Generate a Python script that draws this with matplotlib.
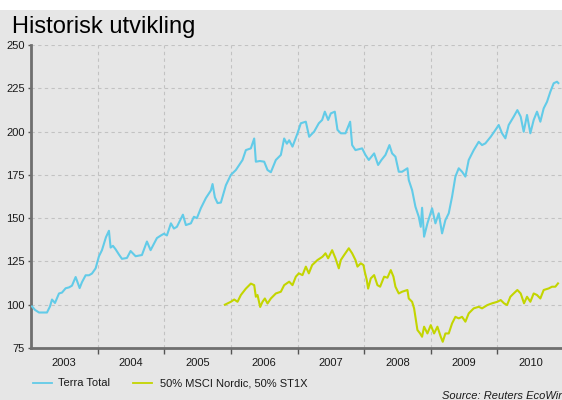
import matplotlib
matplotlib.use("Agg")
import matplotlib.pyplot as plt
from matplotlib.lines import Line2D
from matplotlib.patches import Rectangle

plt.rcParams['font.family'] = ['Liberation Sans', 'DejaVu Sans']

# ---- data (decimal years, index values) ----
terra_t = [2003.015, 2003.06, 2003.12, 2003.18, 2003.24, 2003.285, 2003.315, 2003.36, 2003.42, 2003.465,
           2003.52, 2003.57, 2003.615, 2003.67, 2003.73, 2003.765, 2003.82, 2003.87, 2003.915, 2003.97,
           2004.02, 2004.065, 2004.125, 2004.17, 2004.195, 2004.23, 2004.27, 2004.32, 2004.365, 2004.44,
           2004.495, 2004.57, 2004.665, 2004.74, 2004.795, 2004.89, 2004.95, 2004.995, 2005.04, 2005.1,
           2005.145, 2005.19, 2005.28, 2005.325, 2005.4, 2005.445, 2005.49, 2005.55, 2005.625, 2005.7,
           2005.725, 2005.76, 2005.8, 2005.85, 2005.925, 2006.0, 2006.075, 2006.175, 2006.225, 2006.3,
           2006.35, 2006.375, 2006.435, 2006.5, 2006.55, 2006.6, 2006.675, 2006.75, 2006.8, 2006.84,
           2006.875, 2006.925, 2007.0, 2007.05, 2007.125, 2007.175, 2007.25, 2007.32, 2007.37, 2007.41,
           2007.46, 2007.5, 2007.56, 2007.6, 2007.65, 2007.72, 2007.79, 2007.82, 2007.87, 2007.97,
           2008.02, 2008.07, 2008.15, 2008.21, 2008.26, 2008.32, 2008.38, 2008.42, 2008.47, 2008.52,
           2008.57, 2008.65, 2008.67, 2008.72, 2008.77, 2008.82, 2008.85, 2008.87, 2008.9, 2008.95,
           2009.02, 2009.07, 2009.12, 2009.17, 2009.22, 2009.27, 2009.32, 2009.37, 2009.42, 2009.47,
           2009.52, 2009.57, 2009.645, 2009.72, 2009.77, 2009.82, 2009.9, 2009.97, 2010.02, 2010.07,
           2010.12, 2010.17, 2010.245, 2010.3, 2010.35, 2010.395, 2010.445, 2010.495, 2010.545, 2010.595,
           2010.645, 2010.695, 2010.745, 2010.795, 2010.845, 2010.895, 2010.915]
terra_v = [99, 97, 95.5, 95.5, 95.5, 99, 103, 101, 106.5, 107,
           109.5, 110, 111, 116, 109.6, 113, 117, 117, 118, 121,
           128, 131.5, 139, 142.7, 133, 134, 132, 129, 126.5, 127,
           131, 128, 128.7, 136.5, 131.5, 138.5, 140, 141, 140, 147,
           144, 145, 152, 146, 147, 150.8, 150, 155.8, 161.6, 166,
           169.7, 162, 158.7, 159, 169, 175, 177.8, 183.6, 189.3, 190.3,
           196, 182.6, 183, 182.6, 177.8, 176.5, 183.6, 186.5, 196, 193,
           195, 191.3, 199, 204.8, 205.7, 197, 200, 204.8, 206.7, 211.5,
           206.7, 210.5, 211.5, 201, 199, 199, 205.7, 192.2, 189.3, 190.3,
           186.5, 183.6, 187.4, 180.7, 183.6, 186.5, 192.2, 187.4, 185.5, 176.8,
           176.8, 178.8, 172, 166.2, 156.6, 150.8, 145, 156, 139.3, 147,
           155.7, 147, 152.8, 141.2, 148.9, 152.8, 162.4, 174, 178.8, 176.8,
           174, 183.6, 189.3, 194.1, 192.2, 193.2, 197, 200.9, 203.8, 199,
           196.1, 203.8, 208.6, 212.4, 208.6, 199.9, 209.6, 199, 206.7, 211.5,
           205.7, 213.4, 217.2, 223, 227.9, 228.8, 228]

nordic_t = [2005.91, 2006.0, 2006.05, 2006.1, 2006.15, 2006.225, 2006.3, 2006.35, 2006.375, 2006.4,
            2006.44, 2006.475, 2006.51, 2006.55, 2006.6, 2006.675, 2006.75, 2006.8, 2006.875, 2006.925,
            2006.975, 2007.02, 2007.075, 2007.125, 2007.17, 2007.22, 2007.3, 2007.375, 2007.42, 2007.46,
            2007.52, 2007.57, 2007.62, 2007.65, 2007.7, 2007.77, 2007.82, 2007.87, 2007.9, 2007.95,
            2007.99, 2008.01, 2008.04, 2008.06, 2008.1, 2008.15, 2008.2, 2008.24, 2008.3, 2008.35,
            2008.4, 2008.44, 2008.47, 2008.52, 2008.57, 2008.65, 2008.67, 2008.72, 2008.75, 2008.8,
            2008.84, 2008.87, 2008.9, 2008.95, 2009.0, 2009.05, 2009.1, 2009.15, 2009.18, 2009.22,
            2009.27, 2009.32, 2009.37, 2009.42, 2009.47, 2009.52, 2009.57, 2009.645, 2009.72, 2009.77,
            2009.85, 2009.92, 2010.0, 2010.05, 2010.1, 2010.145, 2010.195, 2010.245, 2010.3, 2010.35,
            2010.4, 2010.445, 2010.495, 2010.545, 2010.595, 2010.645, 2010.695, 2010.77, 2010.82, 2010.87,
            2010.91]
nordic_v = [100, 101.7, 103, 101.7, 105.6, 109.3, 112.2, 111.3, 104.6, 105.6,
            98.7, 101.7, 103.6, 100.7, 103.6, 106.5, 107.5, 111.3, 113.3, 111.3,
            116.2, 118.1, 117.1, 122, 118.1, 122.9, 125.8, 127.7, 129.7, 126.8,
            131.5, 126.8, 121, 125.8, 128.7, 132.6, 129.7, 125.8, 122, 123.9,
            122.9, 119, 114.2, 109.3, 115.2, 117.1, 111.3, 110.4, 116.2, 115.6,
            120, 116.2, 110.4, 106.5, 107.5, 108.5, 103.6, 101.7, 97.9, 85.4,
            83.4, 81.5, 87.3, 83.4, 88.2, 83.4, 87.3, 81.5, 78.6, 83.4,
            83.4, 89.2, 93, 92.1, 93, 90.2, 95, 97.9, 98.8, 97.9,
            99.8, 100.8, 101.7, 102.7, 100.8, 99.8, 104.6, 106.5, 108.5, 106.5,
            100.8, 104.6, 101.7, 106.5, 105.6, 103.6, 108.5, 109.4, 110.4, 110.4,
            112.3]

years = [2003, 2004, 2005, 2006, 2007, 2008, 2009, 2010]
yticks = [75, 100, 125, 150, 175, 200, 225, 250]
series_names = ["Terra Total", "50% MSCI Nordic, 50% ST1X"]
colors = ["#62cbe8", "#c3d500"]

W, H = 562, 400
BG = "#e6e6e6"
fig = plt.figure(figsize=(W / 100, H / 100), dpi=100, facecolor=BG)
fig.patches.append(Rectangle((0, 1 - 10 / H), 1, 10 / H, transform=fig.transFigure,
                             facecolor="white", edgecolor="none", zorder=0))

left, right, top, bottom = 31, 564, 45, 348
ax = fig.add_axes([left / W, 1 - bottom / H, (right - left) / W, (bottom - top) / H])
ax.set_facecolor(BG)

ax.plot(terra_t, terra_v, color=colors[0], lw=1.5, zorder=3)
ax.plot(nordic_t, nordic_v, color=colors[1], lw=1.5, zorder=3)

ax.set_xlim(2003, 2011)
ax.set_ylim(75, 250)

ax.set_yticks(yticks)
ax.set_yticklabels([str(v) for v in yticks])
ax.set_xticks([y + 1 for y in years])
ax.set_xticklabels([])
ax.set_xticks([y + 0.5 for y in years], minor=True)
ax.set_xticklabels([str(y) for y in years], minor=True)

ax.tick_params(axis='y', length=2.5, width=1, color="#555555", pad=2,
               labelsize=8, labelcolor="#1a1a1a")
ax.tick_params(axis='x', which='major', length=4, width=1, color="#555555", direction='out')
ax.tick_params(axis='x', which='minor', length=0, pad=7, labelsize=8, labelcolor="#1a1a1a")

for s in ['top', 'right']:
    ax.spines[s].set_visible(False)
for s in ['left', 'bottom']:
    ax.spines[s].set_color("#6f6f6f")
    ax.spines[s].set_linewidth(2)

ax.grid(True, which='major', axis='both', color="#c2c2c2", lw=0.8, linestyle=(0, (3, 3)))
ax.set_axisbelow(True)

fig.text(12 / W, 1 - 33 / H, "Historisk utvikling", fontsize=17, color="black",
         ha='left', va='baseline')

# legend
ly = 1 - 383 / H
fig.add_artist(Line2D([33 / W, 52 / W], [ly, ly], color=colors[0], lw=1.3, transform=fig.transFigure))
fig.text(58 / W, ly, series_names[0], fontsize=8, color="#1a1a1a", ha='left', va='center')
fig.add_artist(Line2D([133 / W, 152 / W], [ly, ly], color=colors[1], lw=1.3, transform=fig.transFigure))
fig.text(160 / W, ly, series_names[1], fontsize=8, color="#1a1a1a", ha='left', va='center')

fig.text(442 / W, 1 - 399 / H, "Source: Reuters EcoWin", fontsize=8, style='italic',
         color="#1a1a1a", ha='left', va='baseline')

fig.savefig("out.png", dpi=100, facecolor=BG)
